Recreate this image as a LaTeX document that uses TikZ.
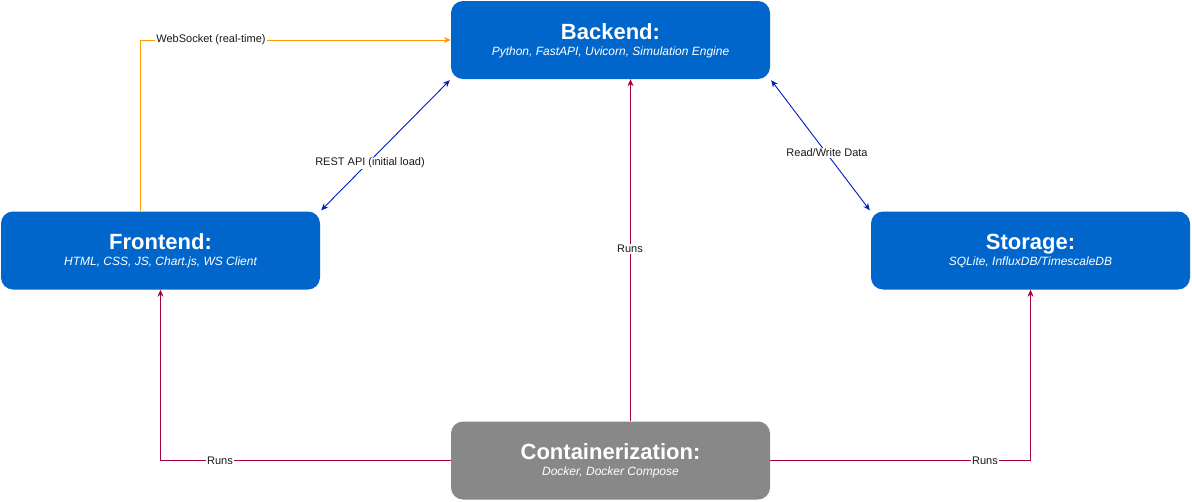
\documentclass[tikz,border=0pt]{standalone}
\usepackage{fontspec}
\setmainfont{Liberation Sans}
\usetikzlibrary{arrows.meta,calc}
\definecolor{boxblue}{HTML}{0066CC}
\definecolor{boxgray}{HTML}{888888}
\definecolor{wsorange}{HTML}{FF9900}
\definecolor{apiblue}{HTML}{001DBC}
\definecolor{runred}{HTML}{A50040}
\newcommand{\bxtitle}{\fontsize{22}{24}\selectfont\bfseries}
\newcommand{\bxsub}{\fontsize{12}{14}\selectfont\itshape}
\begin{document}
\begin{tikzpicture}[x=1pt,y=-1pt,
  box/.style={rounded corners=12pt, minimum width=319pt, minimum height=78pt, inner sep=0pt, text=white, align=center, draw=none},
  lbl/.style={font=\fontsize{11}{13}\selectfont, fill=white, inner sep=1pt, text=black!90},
  conn/.style={line width=0.9pt, -{Stealth[length=7pt,width=6pt]}},
  bidir/.style={line width=0.9pt, {Stealth[length=7pt,width=6pt]}-{Stealth[length=7pt,width=6pt]}},
]
\useasboundingbox (0,0) rectangle (1192,501);
\fill[white] (0,0) rectangle (1192,501);

\node[box, fill=boxblue] (be) at (610.5,40) {{\bxtitle\strut Backend:}\\[-1pt]{\bxsub Python, FastAPI, Uvicorn, Simulation Engine}};
\node[box, fill=boxblue] (fe) at (160.5,250.5) {{\bxtitle\strut Frontend:}\\[-1pt]{\bxsub HTML, CSS, JS, Chart.js, WS Client}};
\node[box, fill=boxblue] (st) at (1030.5,250.5) {{\bxtitle\strut Storage:}\\[-1pt]{\bxsub SQLite, InfluxDB/TimescaleDB}};
\node[box, fill=boxgray] (co) at (610.5,460.5) {{\bxtitle\strut Containerization:}\\[-1pt]{\bxsub Docker, Docker Compose}};

% WebSocket
\coordinate (wsb) at ($(fe.north)+(-20,0)$);
\draw[conn, wsorange] (wsb) |- (be.west);
\node[lbl] (wsl) at (211,40) {WebSocket (real-time)};

% REST API
\draw[bidir, apiblue] ($(fe.north east)+(1,-1)$) -- ($(be.south west)+(-1,1)$);
\node[lbl] (rl) at (370,163) {REST API (initial load)};

% Read/Write
\draw[bidir, apiblue] ($(be.south east)+(1,1)$) -- ($(st.north west)+(-1,-1)$);
\node[lbl] (rwl) at (827,153) {Read/Write Data};

% Runs
\coordinate (cot) at ($(co.north)+(20,0)$);
\coordinate (beb) at ($(be.south)+(20,0)$);
\draw[conn, runred] (cot) -- (beb);
\node[lbl] (r1) at (630,249) {Runs};
\draw[conn, runred] (co.west) -| (fe.south);
\node[lbl] (r2) at (220,461) {Runs};
\draw[conn, runred] (co.east) -| (st.south);
\node[lbl] (r3) at (985,461) {Runs};
\end{tikzpicture}
\end{document}
